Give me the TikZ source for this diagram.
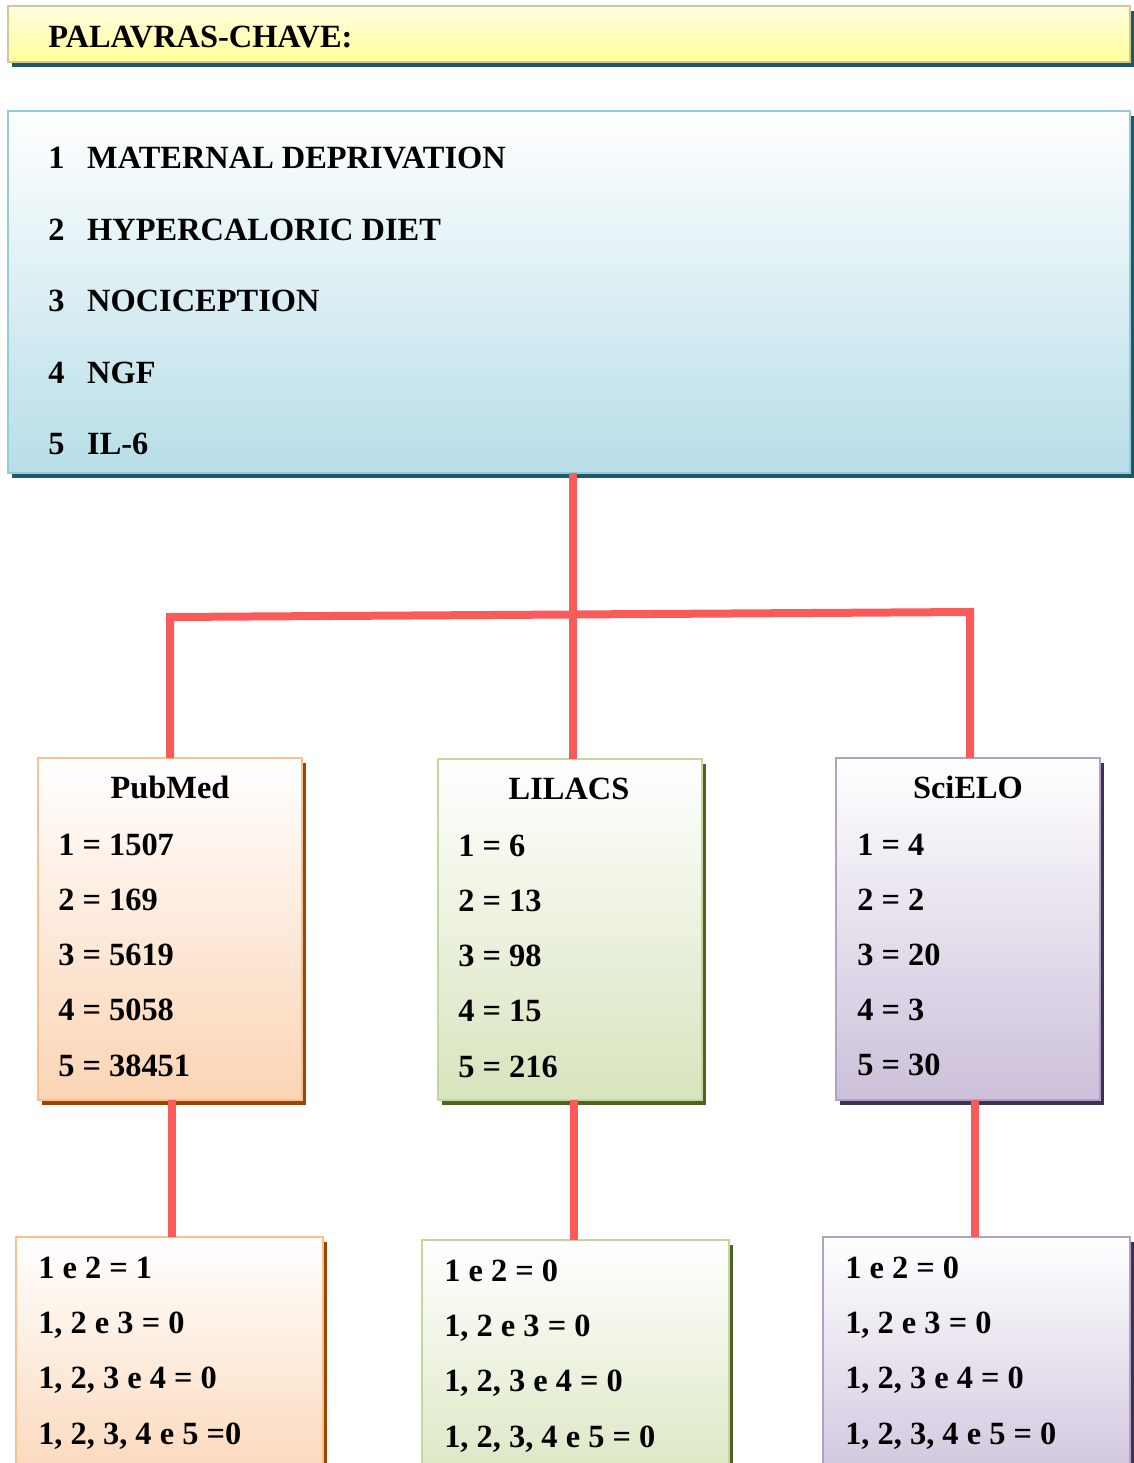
\documentclass[tikz,border=0pt]{standalone}
\usepackage{fontspec}
\setmainfont{Liberation Serif}
\usepackage{xcolor}
\usetikzlibrary{shadows}

\definecolor{linkred}{HTML}{F95B5B}
\definecolor{hdrtop}{HTML}{FFFCE0}
\definecolor{hdrbot}{HTML}{FFFF99}
\definecolor{hdrline}{HTML}{D2C69A}
\definecolor{teal}{HTML}{215868}
\definecolor{kwbot}{HTML}{B7DEE8}
\definecolor{kwline}{HTML}{93CDDD}
\definecolor{orbot}{HTML}{FBD4B4}
\definecolor{orline}{HTML}{FAC090}
\definecolor{orshadow}{HTML}{984806}
\definecolor{grbot}{HTML}{D7E4BD}
\definecolor{grline}{HTML}{C3D69B}
\definecolor{grshadow}{HTML}{4F6228}
\definecolor{pubot}{HTML}{CCC0DA}
\definecolor{puline}{HTML}{B3A2C7}
\definecolor{pushadow}{HTML}{3F3151}

\newcommand{\kwline}[2]{\makebox[29.25pt][l]{#1}#2}

\begin{document}
\begin{tikzpicture}[x=0.75pt, y=-0.75pt,
    every node/.style={inner sep=0pt, font=\fontsize{24.3}{29}\selectfont\bfseries},
    box/.style={rectangle, inner sep=0pt, outer sep=0pt, anchor=north west, line width=1.5pt},
    boxshadow/.style={drop shadow={shadow xshift=3pt, shadow yshift=-3.5pt, fill=#1, opacity=1}},
    link/.style={draw=linkred, line width=6pt}]
    \clip (0,0) rectangle (1134,1463);

    % header and keyword list
    \node[box, boxshadow=teal, draw=hdrline, top color=hdrtop, bottom color=hdrbot,
          minimum width=841.5pt, minimum height=42pt] (hdr) at (8,6) {};
    \node[anchor=base west] (hdrtext) at (48,48) {PALAVRAS-CHAVE:};

    \node[box, boxshadow=teal, draw=kwline, top color=white, bottom color=kwbot,
          minimum width=841.5pt, minimum height=271.5pt] (keys) at (8,111) {};
    \foreach \n/\t [count=\i] in {1/MATERNAL DEPRIVATION, 2/HYPERCALORIC DIET, 3/NOCICEPTION, 4/NGF, 5/IL-6}
        \node[anchor=base west] (kw-\i) at (48,97+71.5*\i) {\kwline{\n}{\t}};

    % databases
    \node[box, boxshadow=orshadow, draw=orline, top color=white, bottom color=orbot,
          minimum width=198pt, minimum height=256.5pt] (pub) at (38,758) {};
    \node[box, boxshadow=grshadow, draw=grline, top color=white, bottom color=grbot,
          minimum width=198pt, minimum height=255.75pt] (lil) at (438,759) {};
    \node[box, boxshadow=pushadow, draw=puline, top color=white, bottom color=pubot,
          minimum width=198pt, minimum height=256.5pt] (sci) at (836,758) {};

    \node[anchor=base] (pub-title) at (170,798) {PubMed};
    \node[anchor=base] (lil-title) at (569,799) {LILACS};
    \node[anchor=base] (sci-title) at (968,798) {SciELO};
    \foreach \t [count=\i] in {1 = 1507, 2 = 169, 3 = 5619, 4 = 5058, 5 = 38451}
        \node[anchor=base west] (pub-\i) at (58,800+55.2*\i) {\t};
    \foreach \t [count=\i] in {1 = 6, 2 = 13, 3 = 98, 4 = 15, 5 = 216}
        \node[anchor=base west] (lil-\i) at (458,801+55.2*\i) {\t};
    \foreach \t [count=\i] in {1 = 4, 2 = 2, 3 = 20, 4 = 3, 5 = 30}
        \node[anchor=base west] (sci-\i) at (857,800+55*\i) {\t};

    % combinations
    \node[box, boxshadow=orshadow, draw=orline, top color=white, bottom color=orbot,
          minimum width=230.25pt, minimum height=200pt] (pubc) at (16,1237) {};
    \node[box, boxshadow=grshadow, draw=grline, top color=white, bottom color=grbot,
          minimum width=230.25pt, minimum height=200pt] (lilc) at (422,1240) {};
    \node[box, boxshadow=pushadow, draw=puline, top color=white, bottom color=pubot,
          minimum width=230.25pt, minimum height=200pt] (scic) at (823,1237) {};

    \foreach \t [count=\i] in {1 e 2 = 1, {1, 2 e 3 = 0}, {1, 2, 3 e 4 = 0}, {1, 2, 3, 4 e 5 =0}}
        \node[anchor=base west] (pubc-\i) at (38,1223+55.3*\i) {\t};
    \foreach \t [count=\i] in {1 e 2 = 0, {1, 2 e 3 = 0}, {1, 2, 3 e 4 = 0}, {1, 2, 3, 4 e 5 = 0}}
        \node[anchor=base west] (lilc-\i) at (444,1226+55.3*\i) {\t};
    \foreach \t [count=\i] in {1 e 2 = 0, {1, 2 e 3 = 0}, {1, 2, 3 e 4 = 0}, {1, 2, 3, 4 e 5 = 0}}
        \node[anchor=base west] (scic-\i) at (845,1223+55.3*\i) {\t};

    % connectors
    \coordinate (jl) at (170,617);
    \coordinate (jr) at (970,612);
    \coordinate (jm) at (573,614.5);
    \draw[link] (keys.south -| jm) -- (jm);
    \draw[link] (pub.north -| jl) -- (jl) -- (jr) -- (sci.north -| jr);
    \draw[link] (jm) -- (lil.north -| jm);
    \draw[link] (pub.south -| 172,0) -- (pubc.north -| 172,0);
    \draw[link] (lil.south -| 574,0) -- (lilc.north -| 574,0);
    \draw[link] (sci.south -| 975,0) -- (scic.north -| 975,0);
\end{tikzpicture}
\end{document}
